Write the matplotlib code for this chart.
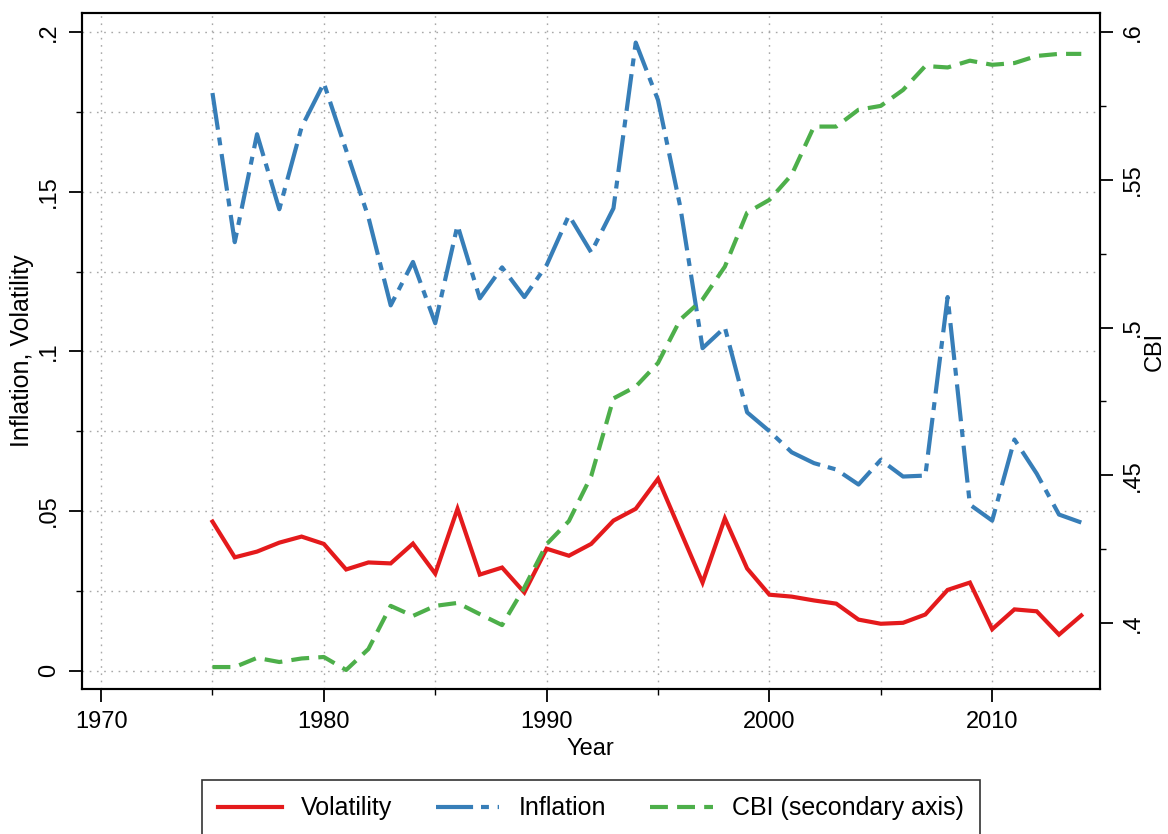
import matplotlib.pyplot as plt
from matplotlib.ticker import MultipleLocator

plt.rcParams['font.family'] = ['Liberation Sans', 'DejaVu Sans']

# dados
anos = list(range(1975, 2015))

volatilidade = [0.0467, 0.0355, 0.0373, 0.0401, 0.0420, 0.0397, 0.0317, 0.0339, 0.0336, 0.0398,
                0.0304, 0.0507, 0.0301, 0.0323, 0.0245, 0.0382, 0.0360, 0.0397, 0.0470, 0.0507,
                0.0601, 0.0438, 0.0276, 0.0477, 0.0320, 0.0238, 0.0232, 0.0220, 0.0210, 0.0160,
                0.0147, 0.0150, 0.0176, 0.0253, 0.0276, 0.0130, 0.0192, 0.0186, 0.0113, 0.0173]

inflacao = [0.1809, 0.1342, 0.1680, 0.1445, 0.1702, 0.1840, 0.1630, 0.1420, 0.1144, 0.1280,
            0.1088, 0.1395, 0.1166, 0.1263, 0.1170, 0.1270, 0.1426, 0.1310, 0.1448, 0.1967,
            0.1787, 0.1452, 0.1010, 0.1075, 0.0809, 0.0750, 0.0684, 0.0650, 0.0630, 0.0583,
            0.0660, 0.0608, 0.0611, 0.1170, 0.0520, 0.0470, 0.0724, 0.0617, 0.0489, 0.0464]

cbi = [0.3851, 0.3851, 0.3882, 0.3868, 0.3880, 0.3885, 0.3841, 0.3912, 0.4058, 0.4024,
       0.4058, 0.4068, 0.4030, 0.3993, 0.4120, 0.4267, 0.4345, 0.4497, 0.4760, 0.4800,
       0.4880, 0.5027, 0.5095, 0.5206, 0.5389, 0.5432, 0.5517, 0.5680, 0.5680, 0.5737,
       0.5750, 0.5804, 0.5885, 0.5880, 0.5903, 0.5889, 0.5895, 0.5919, 0.5926, 0.5926]

xticks = [1970, 1980, 1990, 2000, 2010]
yticks_esq = [0, 0.05, 0.1, 0.15, 0.2]
ylabels_esq = ['0', '.05', '.1', '.15', '.2']
yticks_dir = [0.4, 0.45, 0.5, 0.55, 0.6]
ylabels_dir = ['.4', '.45', '.5', '.55', '.6']

vermelho = '#E41A1C'
azul = '#377EB8'
verde = '#4DAF4A'
fs = 17

fig = plt.figure(figsize=(11.68, 8.34), dpi=100)
ax = fig.add_axes([0.06995, 0.17386, 0.87183, 0.81019])
ax2 = ax.twinx()

l1, = ax.plot(anos, volatilidade, color=vermelho, lw=3, label='Volatility',
              solid_joinstyle='miter')
l2, = ax.plot(anos, inflacao, color=azul, lw=3, label='Inflation',
              linestyle=(0, (8.9, 1.9, 1.9, 2.1)), dash_capstyle='butt')
l3, = ax2.plot(anos, cbi, color=verde, lw=3, label='CBI (secondary axis)',
               linestyle=(0, (4.3, 2.2)), dash_capstyle='butt')

ax.set_xlim(1969.13, 2014.84)
ax.set_ylim(-0.00573, 0.20586)
ax2.set_ylim(0.37767, 0.60633)

ax.set_xticks(xticks)
ax.xaxis.set_minor_locator(MultipleLocator(5))
ax.set_yticks(yticks_esq)
ax.set_yticklabels(ylabels_esq, rotation=90, va='center')
ax.yaxis.set_minor_locator(MultipleLocator(0.025))
ax2.set_yticks(yticks_dir)
ax2.set_yticklabels(ylabels_dir, rotation=90, va='center')
ax2.yaxis.set_minor_locator(MultipleLocator(0.025))

ax.tick_params(which='major', length=9.5, width=1.3, labelsize=fs, pad=6)
ax.tick_params(which='minor', length=4.5, width=1.0)
ax2.tick_params(which='major', length=9.5, width=1.3, labelsize=fs, pad=6)
ax2.tick_params(which='minor', length=4.5, width=1.0)

ax.grid(True, which='both', color='#a8a8a8', lw=1.0, linestyle=(0, (1.2, 4)))
ax.set_axisbelow(True)

for s in list(ax.spines.values()) + list(ax2.spines.values()):
    s.set_linewidth(1.5)

ax.set_xlabel('Year', fontsize=fs, labelpad=4)
ax.set_ylabel('Inflation, Volatility', fontsize=18, labelpad=3)
ax2.set_ylabel('CBI', fontsize=fs, labelpad=0)

leg = fig.legend(handles=[l1, l2, l3], loc='upper center', bbox_to_anchor=(0.506, 0.0647),
                 ncol=3, fontsize=18, frameon=True, fancybox=False, edgecolor='black',
                 handlelength=2.55, handletextpad=0.76, columnspacing=1.75,
                 borderpad=0.65, borderaxespad=0)
leg.get_frame().set_linewidth(1.2)

fig.savefig('out.png', dpi=100)
